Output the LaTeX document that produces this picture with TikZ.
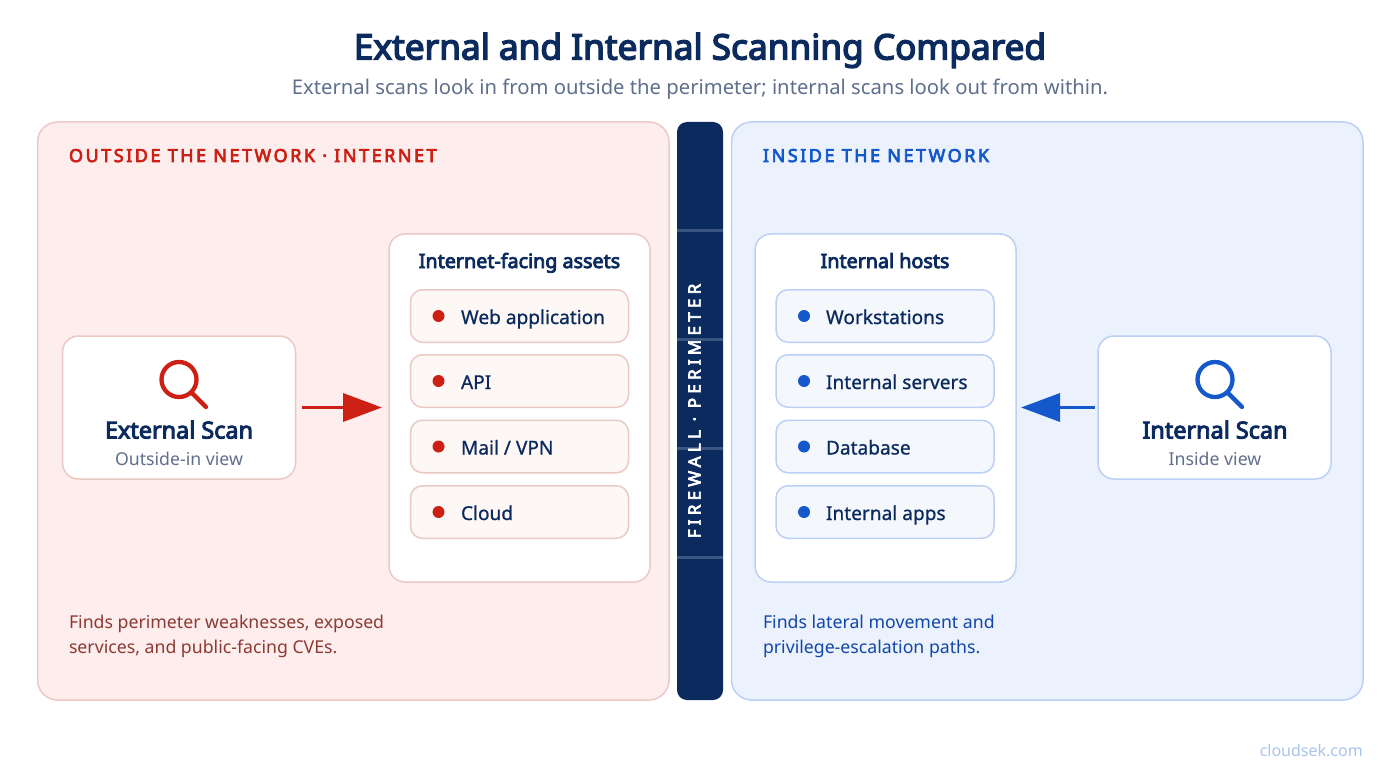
\documentclass[tikz,border=0pt]{standalone}
\usepackage{fontspec}
\setmainfont{Noto Sans}[AutoFakeBold=4]
\usetikzlibrary{arrows.meta}
\definecolor{navy}{HTML}{0B2A5E}
\definecolor{slatetxt}{HTML}{5F6F8C}
\definecolor{redmain}{HTML}{CC2014}
\definecolor{redpanel}{HTML}{FDEDED}
\definecolor{redline}{HTML}{EBC9C5}
\definecolor{reditem}{HTML}{FDF7F5}
\definecolor{rednote}{HTML}{8C3A32}
\definecolor{bluemain}{HTML}{1558CC}
\definecolor{bluepanel}{HTML}{EBF2FD}
\definecolor{blueline}{HTML}{BBD0F5}
\definecolor{blueitem}{HTML}{F4F7FC}
\definecolor{bluenote}{HTML}{1246A8}
\definecolor{wallline}{HTML}{3A5580}
\definecolor{brandtxt}{HTML}{A9C4EE}
\newcommand{\fs}[1]{\fontsize{#1}{#1}\selectfont}
\tikzset{
  x=1pt,y=-1pt,
  shell/.style={inner sep=0pt,outer sep=0pt,line width=1.5pt},
  panel/.style={shell,rounded corners=20pt,minimum width=631.5pt,minimum height=578pt},
  redpanelbox/.style={panel,draw=redline,fill=redpanel},
  bluepanelbox/.style={panel,draw=blueline,fill=bluepanel},
  scanbox/.style={shell,rounded corners=16pt,fill=white,minimum width=233pt,minimum height=143pt},
  listbox/.style={shell,rounded corners=16pt,fill=white,minimum width=261pt,minimum height=348pt},
  itembox/.style={shell,rounded corners=12pt,minimum width=218pt,minimum height=52.5pt},
  reditembox/.style={itembox,draw=redline,fill=reditem},
  blueitembox/.style={itembox,draw=blueline,fill=blueitem},
  dot/.style={circle,inner sep=0pt,outer sep=0pt,minimum size=12pt},
  txt/.style={inner sep=0pt,outer sep=0pt,anchor=base},
  txtl/.style={inner sep=0pt,outer sep=0pt,anchor=base west},
  itemtxt/.style={txtl,text=navy,font=\fs{19.1}\addfontfeatures{FakeBold=0.8}},
  scanname/.style={txt,text=navy,font=\bfseries\fs{23.4}},
  scansub/.style={txt,text=slatetxt,font=\fs{17.7}},
  listname/.style={txt,text=navy,font=\bfseries\fs{19.7}},
  paneltitle/.style={txtl,font=\bfseries\fs{18}\addfontfeatures{LetterSpace=14}},
  notetxt/.style={txtl,font=\fs{17.7}},
  glass/.style={line width=4.3pt,line cap=round},
  flow/.style={line width=3.5pt,-{Triangle[length=39pt,width=28pt]}}
}
\begin{document}
\begin{tikzpicture}
\useasboundingbox (0,0) rectangle (1400,778);
\fill[white] (0,0) rectangle (1400,778);

\node[txt,text=navy,font=\bfseries\fs{35.2}] (title) at (700,59.5) {External and Internal Scanning Compared};
\node[txt,text=slatetxt,font=\fs{20.25}] (subtitle) at (700,94.5) {External scans look in from outside the perimeter; internal scans look out from within.};

% panels
\node[redpanelbox] (leftpanel) at (353.25,411) {};
\node[bluepanelbox] (rightpanel) at (1047.25,411) {};
\node[shell,rounded corners=10pt,fill=navy,minimum width=46pt,minimum height=578pt] (wall) at (700,411) {};
\foreach \yy in {230.5,339.5,448.5,557}
  \draw[wallline,line width=3pt] (677,\yy) -- (723,\yy);
\node[inner sep=0pt,text=white,rotate=90,font=\bfseries\fs{17}\addfontfeatures{LetterSpace=25}] (walltxt) at (694.5,411) {FIREWALL · PERIMETER};

\node[paneltitle,text=redmain] (lefthead) at (69,162) {OUTSIDE THE NETWORK · INTERNET};
\node[paneltitle,text=bluemain] (righthead) at (763,162) {INSIDE THE NETWORK};

% external side
\node[scanbox,draw=redline] (ext) at (179,407.5) {};
\draw[redmain,glass] (179,379.5) circle (17.5pt);
\draw[redmain,glass] (191.5,392.5) -- (206,407);
\node[scanname] (extname) at (179,438.5) {External Scan};
\node[scansub] (extsub) at (179,465) {Outside-in view};

\node[listbox,draw=redline] (assets) at (519.5,408) {};
\node[listname] (assetsname) at (519.5,268) {Internet-facing assets};
\node[reditembox] (a1) at (519.5,316) {};
\node[reditembox] (a2) at (519.5,381) {};
\node[reditembox] (a3) at (519.5,446.5) {};
\node[reditembox] (a4) at (519.5,512) {};
\foreach \nn/\yy/\tt in {1/316/Web application,2/381/API,3/446.5/{Mail / VPN},4/512/Cloud}{
  \node[dot,fill=redmain] (ad\nn) at (438.5,\yy) {};
  \node[itemtxt] (at\nn) at (461,\yy+8) {\tt};
}
\draw[flow,redmain,shorten <=6.5pt,shorten >=7pt] (ext.east) -- (ext.east -| assets.west);

\node[notetxt,text=rednote] (lnote1) at (69,628) {Finds perimeter weaknesses, exposed};
\node[notetxt,text=rednote] (lnote2) at (69,653) {services, and public-facing CVEs.};

% internal side
\node[listbox,draw=blueline] (hosts) at (885.5,408) {};
\node[listname] (hostsname) at (885,268) {Internal hosts};
\node[blueitembox] (h1) at (885,316) {};
\node[blueitembox] (h2) at (885,381) {};
\node[blueitembox] (h3) at (885,446.5) {};
\node[blueitembox] (h4) at (885,512) {};
\foreach \nn/\yy/\tt in {1/316/Workstations,2/381/Internal servers,3/446.5/Database,4/512/Internal apps}{
  \node[dot,fill=bluemain] (hd\nn) at (804,\yy) {};
  \node[itemtxt] (ht\nn) at (826,\yy+8) {\tt};
}

\node[scanbox,draw=blueline] (int) at (1214.5,407.5) {};
\draw[bluemain,glass] (1215,379.5) circle (17.5pt);
\draw[bluemain,glass] (1227.5,392.5) -- (1242,407);
\node[scanname] (intname) at (1215,438.5) {Internal Scan};
\node[scansub] (intsub) at (1215,465) {Inside view};
\draw[flow,bluemain,shorten <=3pt,shorten >=5pt] (int.west) -- (int.west -| hosts.east);

\node[notetxt,text=bluenote] (rnote1) at (763,628) {Finds lateral movement and};
\node[notetxt,text=bluenote] (rnote2) at (763,653) {privilege-escalation paths.};

\node[inner sep=0pt,anchor=base east,text=brandtxt,font=\fs{16}] (brand) at (1363,756) {cloudsek.com};
\end{tikzpicture}
\end{document}
